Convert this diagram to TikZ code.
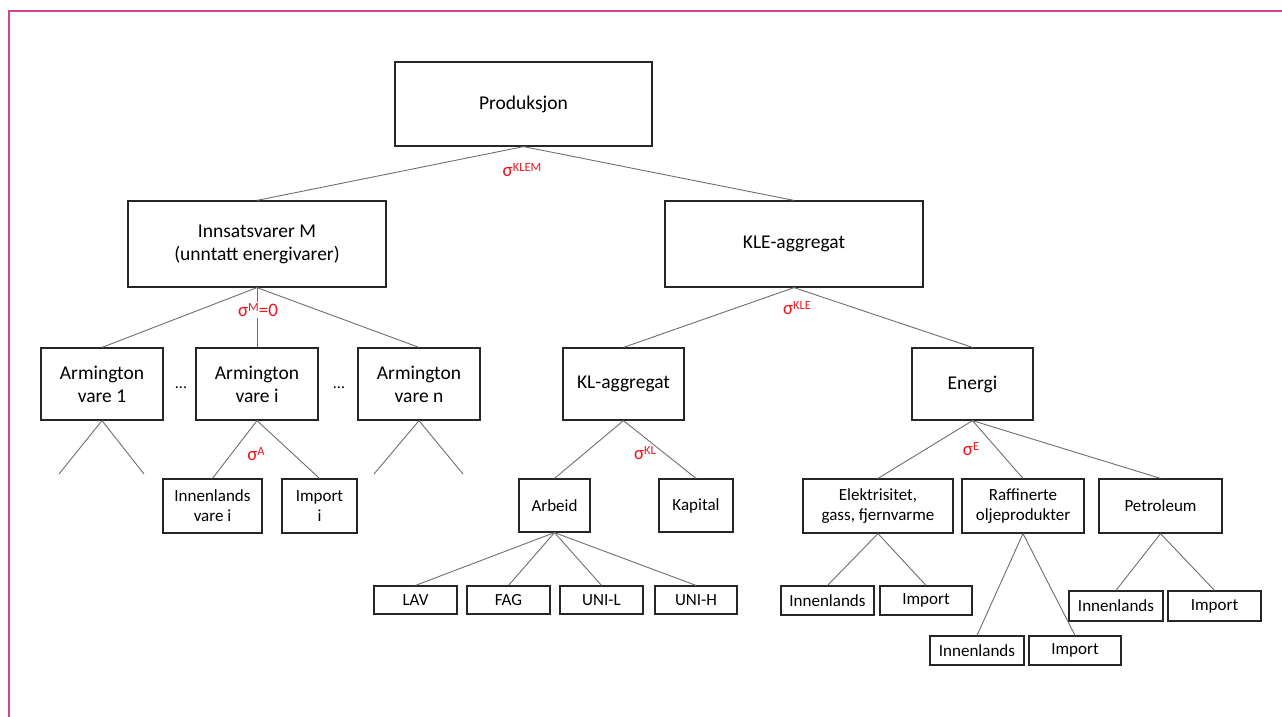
\documentclass[tikz,border=0pt]{standalone}
\usepackage{fontspec}
\setmainfont{Carlito}
\definecolor{frame}{HTML}{D3458A}
\definecolor{conn}{HTML}{6E6E6E}
\definecolor{sig}{HTML}{F0141E}
\newcommand{\sig}[1]{σ\raisebox{0.55ex}{\fontsize{12.5}{12.5}\selectfont #1}}
\begin{document}
\begin{tikzpicture}[x=1pt,y=-1pt,
  box/.style={draw=black!85, line width=1.2pt, inner sep=0pt, align=center, font=\fontsize{19.5}{23}\selectfont},
  sbox/.style={box, font=\fontsize{17}{20}\selectfont},
  link/.style={draw=conn, line width=0.9pt},
  siglab/.style={text=sig, font=\fontsize{19}{19}\selectfont, inner sep=0pt}]
\useasboundingbox (0,0) rectangle (1282,717);
\draw[frame, line width=1.8pt] (9,1000) -- (9,11) -- (2000,11);

% level 0
\node[box, minimum width=257, minimum height=84] (prod) at (523.5,104) {Produksjon};
% level 1
\node[box, minimum width=258, minimum height=86] (M) at (257,244) {Innsatsvarer M\\(unntatt energivarer)};
\node[box, minimum width=258, minimum height=86] (KLE) at (794,244) {KLE-aggregat};
% level 2
\node[box, minimum width=122, minimum height=72] (A1) at (102,384) {Armington\\vare 1};
\node[box, minimum width=122, minimum height=72] (Ai) at (257,384) {Armington\\vare i};
\node[box, minimum width=122, minimum height=72] (An) at (419,384) {Armington\\vare n};
\node[box, minimum width=121, minimum height=72] (KL) at (623.5,384) {KL-aggregat};
\node[box, minimum width=121, minimum height=72] (E) at (972.5,384) {Energi};
\node[font=\fontsize{16}{16}\selectfont, inner sep=0pt] (d1) at (181,388) {...};
\node[font=\fontsize{16}{16}\selectfont, inner sep=0pt] (d2) at (339,388) {...};
% level 3
\node[sbox, minimum width=99, minimum height=54] (AiD) at (212.5,506) {Innenlands\\vare i};
\node[sbox, minimum width=75, minimum height=54] (AiI) at (319.5,506) {Import\\i};
\node[sbox, minimum width=71, minimum height=53] (arb) at (554.5,505.5) {Arbeid};
\node[sbox, minimum width=74, minimum height=53] (kap) at (696,505.5) {Kapital};
\node[sbox, minimum width=150, minimum height=54] (el) at (878,506) {Elektrisitet,\\gass, fjernvarme};
\node[sbox, minimum width=122, minimum height=54] (raf) at (1023,506) {Raffinerte\\oljeprodukter};
\node[sbox, minimum width=123, minimum height=54] (pet) at (1160.5,506) {Petroleum};
% level 4
\node[sbox, minimum width=83, minimum height=28] (lav) at (415.5,600) {LAV};
\node[sbox, minimum width=83, minimum height=28] (fag) at (508.5,600) {FAG};
\node[sbox, minimum width=83, minimum height=28] (unil) at (601.5,600) {UNI-L};
\node[sbox, minimum width=82, minimum height=28] (unih) at (696,600) {UNI-H};
\node[sbox, minimum width=93, minimum height=29] (elD) at (827.5,600.5) {Innenlands};
\node[sbox, minimum width=92, minimum height=29] (elI) at (926,600.5) {Import};
\node[sbox, minimum width=94, minimum height=29] (rafD) at (977,650.5) {Innenlands};
\node[sbox, minimum width=92, minimum height=29] (rafI) at (1075,650.5) {Import};
\node[sbox, minimum width=94, minimum height=30] (petD) at (1116,606) {Innenlands};
\node[sbox, minimum width=93, minimum height=30] (petI) at (1214.5,606) {Import};

% free ends
\coordinate (a1l) at (59,474);
\coordinate (a1r) at (144,474);
\coordinate (anl) at (374,474);
\coordinate (anr) at (463,474);

% connectors
\draw[link] (prod.south) -- (M.north);
\draw[link] (prod.south) -- (KLE.north);
\draw[link] (M.south) -- (A1.north);
\draw[link] (M.south) -- (Ai.north);
\draw[link] (M.south) -- (An.north);
\draw[link] (A1.south) -- (a1l);
\draw[link] (A1.south) -- (a1r);
\draw[link] (An.south) -- (anl);
\draw[link] (An.south) -- (anr);
\draw[link] (Ai.south) -- (AiD.north);
\draw[link] (Ai.south) -- (AiI.north);
\draw[link] (KLE.south) -- (KL.north);
\draw[link] (KLE.south) -- (E.north);
\draw[link] (KL.south) -- (arb.north);
\draw[link] (KL.south) -- (kap.north);
\draw[link] (arb.south) -- (lav.north);
\draw[link] (arb.south) -- (fag.north);
\draw[link] (arb.south) -- (unil.north);
\draw[link] (arb.south) -- (unih.north);
\draw[link] (E.south) -- (el.north);
\draw[link] (E.south) -- (raf.north);
\draw[link] (E.south) -- (pet.north);
\draw[link] (el.south) -- (elD.north);
\draw[link] (el.south) -- (elI.north);
\draw[link] (raf.south) -- (rafD.north);
\draw[link] (raf.south) -- (rafI.north);
\draw[link] (pet.south) -- (petD.north);
\draw[link] (pet.south) -- (petI.north);

% elasticities
\node[siglab] (sKLEM) at (522,170) {\sig{KLEM}};
\node[siglab, fill=white, inner sep=1pt] (sM) at (258,310) {\sig{M}=0};
\node[siglab] (sA) at (256,454) {\sig{A}};
\node[siglab] (sKLE) at (797,308) {\sig{KLE}};
\node[siglab] (sKL) at (645,453) {\sig{KL}};
\node[siglab] (sE) at (971,449) {\sig{E}};
\end{tikzpicture}
\end{document}
